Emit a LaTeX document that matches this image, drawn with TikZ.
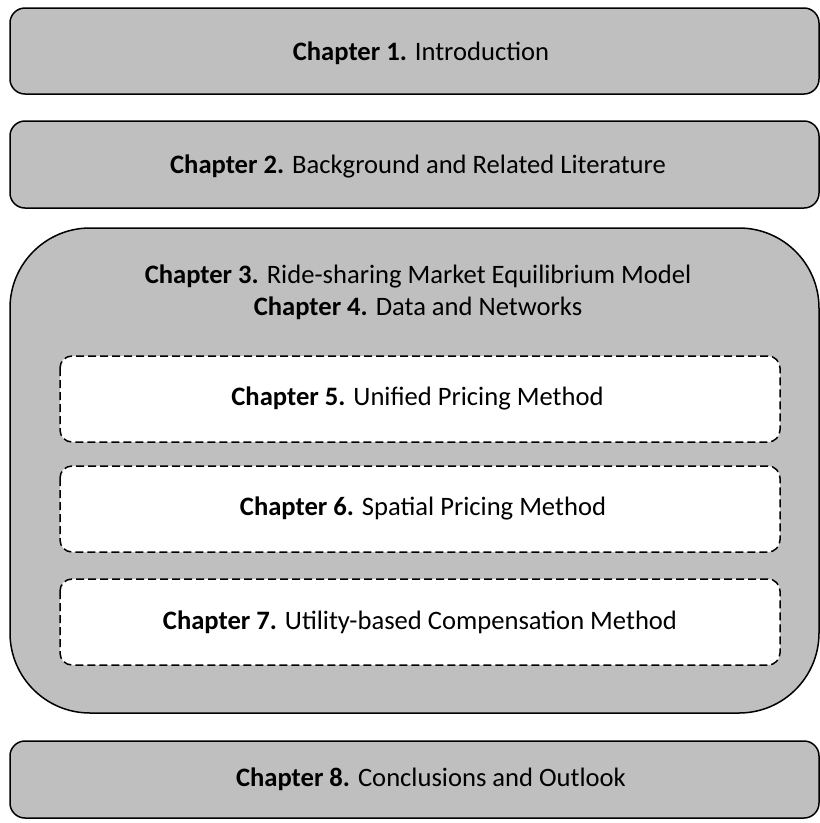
\documentclass[tikz,border=0pt]{standalone}
\usepackage{fontspec}
\setmainfont{Carlito}
\definecolor{boxgray}{RGB}{191,191,191}
\tikzset{
  graybox/.style={draw=black, line width=1.5pt, fill=boxgray, rounded corners=15pt},
  bigbox/.style={draw=black, line width=1.5pt, fill=boxgray, rounded corners=80pt},
  dashbox/.style={draw=black, line width=1.5pt, fill=white, rounded corners=12pt, dash pattern=on 8pt off 4pt},
  lbl/.style={anchor=base, inner sep=0pt, font=\fontsize{26.6}{32}\selectfont, align=center}
}
\begin{document}
\begin{tikzpicture}[x=1pt,y=-1pt]
\useasboundingbox (0,0) rectangle (820,823);
% boxes
\draw[graybox] (10,8) rectangle (819,94);
\draw[graybox] (10,121) rectangle (819,208);
\draw[bigbox] (10,228) rectangle (819,713);
\draw[dashbox] (60,356) rectangle (780,442);
\draw[dashbox] (60,466) rectangle (780,552);
\draw[dashbox] (60,579) rectangle (780,665);
\draw[graybox] (10,741) rectangle (819,818);
% labels
\node[lbl] (t1) at (421,60) {\textbf{Chapter 1.} Introduction};
\node[lbl] (t2) at (418,173) {\textbf{Chapter 2.} Background and Related Literature};
\node[lbl] (t3) at (418,283) {\textbf{Chapter 3.} Ride-sharing Market Equilibrium Model};
\node[lbl] (t4) at (418,315) {\textbf{Chapter 4.} Data and Networks};
\node[lbl] (t5) at (417.5,405) {\textbf{Chapter 5.} Unified Pricing Method};
\node[lbl] (t6) at (423,515) {\textbf{Chapter 6.} Spatial Pricing Method};
\node[lbl] (t7) at (420,629) {\textbf{Chapter 7.} Utility-based Compensation Method};
\node[lbl] (t8) at (431,786) {\textbf{Chapter 8.} Conclusions and Outlook};
\end{tikzpicture}
\end{document}
